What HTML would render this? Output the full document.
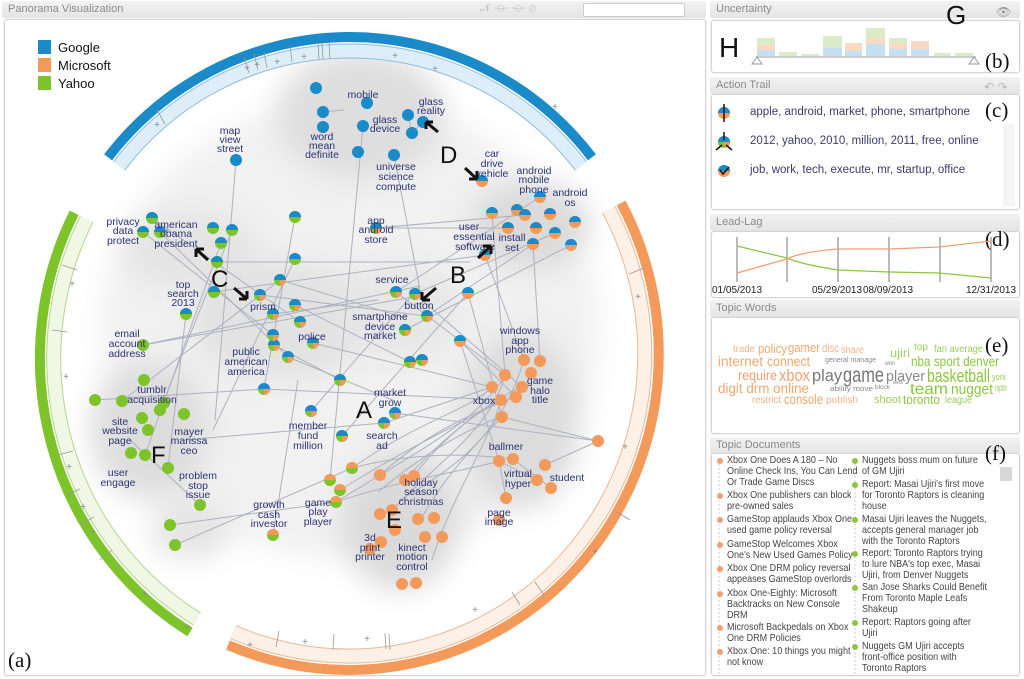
<!DOCTYPE html>
<html><head><meta charset="utf-8"><style>
*{margin:0;padding:0;box-sizing:border-box}
body{width:1024px;height:679px;background:#fff;font-family:"Liberation Sans",sans-serif;position:relative;overflow:hidden}
.tb{position:absolute;height:17px;background:linear-gradient(#f2f2f2,#e4e4e4);color:#8a8a8a;font-size:11px;line-height:17px;padding-left:6px;border-radius:2px}
.bx{position:absolute;background:#fff;border:1px solid #d4d4d4;border-radius:3px;box-shadow:0 0 2px #ddd}
.at{position:absolute;left:750px;font-size:11.5px;color:#3b3b6b;white-space:nowrap}
.doc{position:absolute;font-size:10.5px;line-height:11px;color:#444;white-space:nowrap;transform:scaleX(0.86);transform-origin:0 0}
.dot{position:absolute;width:6px;height:6px;border-radius:3px}
</style></head><body>
<!-- left panel -->
<div class="tb" style="left:2px;top:1px;width:704px">Panorama Visualization</div>
<div style="position:absolute;left:583px;top:3px;width:102px;height:14px;background:#fff;border:1px solid #ccc;border-radius:2px"></div>
<div style="position:absolute;left:480px;top:2px;font-size:11px;color:#bbb">𝒩 -⊖- -⊖- ⊘</div>
<div class="bx" style="left:4px;top:19px;width:702px;height:657px"></div>
<svg style="position:absolute;left:0;top:0" width="708" height="679" viewBox="0 0 708 679">
<defs>
<filter id="bl" x="-50%" y="-50%" width="200%" height="200%"><feGaussianBlur stdDeviation="14"/></filter>
<g id="g"><circle r="6" fill="#1a8ac9"/></g>
<g id="m"><circle r="6" fill="#f39a5a"/></g>
<g id="y"><circle r="6" fill="#7dc42a"/></g>
<g id="gm"><circle r="6" fill="#f39a5a"/><path d="M-6,0A6,6 0 0 1 6,0Z" fill="#1a8ac9"/></g>
<g id="gy"><circle r="6" fill="#7dc42a"/><path d="M-6,0A6,6 0 0 1 6,0Z" fill="#1a8ac9"/></g>
<g id="my"><circle r="6" fill="#7dc42a"/><path d="M-6,0A6,6 0 0 1 6,0Z" fill="#f39a5a"/></g>
<g id="gmy"><circle r="6" fill="#7dc42a"/><path d="M-6,0A6,6 0 0 1 6,0Z" fill="#1a8ac9"/><path d="M0,0L6,0A6,6 0 0 1 0,6Z" fill="#f39a5a"/></g>
</defs>
<!-- density -->
<g filter="url(#bl)">
<ellipse cx="350" cy="330" rx="250" ry="230" fill="#f1f1f1"/>
<ellipse cx="360" cy="115" rx="85" ry="65" fill="#dedede"/>
<ellipse cx="530" cy="225" rx="60" ry="45" fill="#dadada"/>
<ellipse cx="520" cy="420" rx="60" ry="90" fill="#dcdcdc"/>
<ellipse cx="400" cy="520" rx="60" ry="70" fill="#dadada"/>
<ellipse cx="150" cy="430" rx="60" ry="70" fill="#dddddd"/>
<ellipse cx="280" cy="320" rx="90" ry="60" fill="#e2e2e2"/>
<ellipse cx="190" cy="250" rx="70" ry="40" fill="#e4e4e4"/>
<ellipse cx="400" cy="310" rx="60" ry="50" fill="#e6e6e6"/>
<ellipse cx="190" cy="530" rx="40" ry="30" fill="#e4e4e4"/>
</g>
<!-- arcs -->
<g fill="none">
<path d="M108.1,157.3A307,313 0 0 1 591.9,157.3" stroke="#1a8ac9" stroke-width="10"/>
<path d="M119.1,165.9A293,299 0 0 1 580.9,165.9" stroke="#8fbcd8" stroke-width="15"/>
<path d="M119.1,165.9A293,299 0 0 1 580.9,165.9" stroke="#ddeef8" stroke-width="13"/>
<path d="M190,632A312,320 0 0 1 74.1,212.8" stroke="#7dc42a" stroke-width="10"/>
<path d="M197,619A298,305 0 0 1 86.7,218.9" stroke="#b4d58c" stroke-width="15"/>
<path d="M197,619A298,305 0 0 1 86.7,218.9" stroke="#f0f7e4" stroke-width="13"/>
<path d="M621.1,203A310,316 0 0 1 228,645" stroke="#f39a5a" stroke-width="10"/>
<path d="M608.7,209.6A296,302 0 0 1 233,632" stroke="#e9b897" stroke-width="15"/>
<path d="M608.7,209.6A296,302 0 0 1 233,632" stroke="#fdf0e6" stroke-width="13"/>
</g>
<g stroke="#999" stroke-width="0.8">
<line x1="157" y1="110" x2="165" y2="124"/><line x1="244" y1="57" x2="249" y2="73"/><line x1="254" y1="54" x2="258" y2="70"/><line x1="264" y1="52" x2="267" y2="68"/><line x1="290" y1="46" x2="292" y2="62"/><line x1="318" y1="43" x2="319" y2="59"/><line x1="322" y1="43" x2="323" y2="59"/><line x1="329" y1="43" x2="330" y2="59"/>
<line x1="62" y1="265" x2="77" y2="270"/><line x1="52" y1="330" x2="67" y2="332"/><line x1="58" y1="455" x2="73" y2="451"/><line x1="66" y1="495" x2="80" y2="489"/><line x1="80" y1="525" x2="94" y2="517"/><line x1="100" y1="560" x2="112" y2="550"/>
<line x1="644" y1="268" x2="629" y2="274"/><line x1="630" y1="520" x2="617" y2="512"/><line x1="544" y1="595" x2="535" y2="582"/><line x1="520" y1="605" x2="512" y2="592"/><line x1="390" y1="650" x2="389" y2="634"/><line x1="333" y1="650" x2="334" y2="634"/><line x1="276" y1="647" x2="279" y2="631"/><line x1="386" y1="649" x2="385" y2="633"/>
</g>
<g font-size="10" fill="#888" text-anchor="middle">
<text x="157" y="128">+</text><text x="247" y="71">+</text><text x="257" y="68">+</text><text x="277" y="65">+</text><text x="304" y="60">+</text><text x="395" y="59">+</text><text x="555" y="110">+</text><text x="435" y="72">+</text>
<text x="72" y="287">+</text><text x="66" y="380">+</text><text x="69" y="470">+</text><text x="83" y="510">+</text><text x="93" y="535">+</text><text x="145" y="597">+</text><text x="187" y="630">+</text>
<text x="638" y="300">+</text><text x="625" y="450">+</text><text x="595" y="555">+</text><text x="475" y="613">+</text><text x="367" y="642">+</text><text x="305" y="645">+</text><text x="250" y="648">+</text>
</g>
<g stroke="#aeb0bf" stroke-width="1" fill="none">
<line x1="236" y1="160" x2="215" y2="420"/><line x1="363" y1="126" x2="330" y2="480"/><line x1="394" y1="155" x2="425" y2="316"/><line x1="412" y1="133" x2="423" y2="122"/>
<line x1="152" y1="218" x2="300" y2="322"/><line x1="143" y1="232" x2="273" y2="335"/><line x1="160" y1="232" x2="288" y2="357"/><line x1="232" y1="230" x2="160" y2="410"/><line x1="221" y1="243" x2="145" y2="455"/><line x1="295" y1="259" x2="213" y2="430"/>
<line x1="213" y1="292" x2="485" y2="255"/><line x1="217" y1="262" x2="470" y2="262"/><line x1="295" y1="217" x2="264" y2="389"/><line x1="186" y1="314" x2="168" y2="468"/>
<line x1="143" y1="345" x2="420" y2="286"/><line x1="143" y1="345" x2="413" y2="297"/><line x1="122" y1="401" x2="280" y2="280"/><line x1="95" y1="400" x2="264" y2="389"/>
<line x1="280" y1="280" x2="406" y2="318"/><line x1="260" y1="295" x2="426" y2="316"/><line x1="273" y1="314" x2="378" y2="300"/><line x1="295" y1="305" x2="410" y2="362"/><line x1="274" y1="345" x2="340" y2="380"/><line x1="288" y1="357" x2="395" y2="401"/><line x1="313" y1="343" x2="492" y2="387"/>
<line x1="264" y1="389" x2="501" y2="400"/><line x1="311" y1="411" x2="420" y2="286"/><line x1="342" y1="436" x2="468" y2="293"/><line x1="184" y1="440" x2="383" y2="423"/>
<line x1="376" y1="228" x2="508" y2="228"/><line x1="376" y1="228" x2="525" y2="215"/><line x1="396" y1="292" x2="540" y2="197"/><line x1="415" y1="294" x2="555" y2="233"/><line x1="405" y1="330" x2="571" y2="245"/><line x1="427" y1="316" x2="533" y2="244"/>
<line x1="396" y1="292" x2="505" y2="375"/><line x1="415" y1="294" x2="522" y2="387"/><line x1="468" y1="293" x2="502" y2="417"/><line x1="460" y1="341" x2="499" y2="461"/><line x1="460" y1="341" x2="516" y2="397"/><line x1="395" y1="413" x2="598" y2="441"/><line x1="384" y1="423" x2="492" y2="387"/>
<line x1="485" y1="255" x2="524" y2="360"/><line x1="533" y1="244" x2="540" y2="361"/><line x1="492" y1="213" x2="505" y2="375"/>
<path d="M340,490 C420,440 470,420 502,400"/><path d="M336,502 C420,450 480,420 505,375"/><path d="M352,468 C420,420 470,410 492,387"/><path d="M380,475 C430,430 480,410 516,397"/><path d="M405,480 C440,440 480,410 501,400"/><path d="M414,476 C440,440 490,400 522,387"/><path d="M378,492 C440,440 490,420 502,417"/><path d="M392,510 C440,460 490,430 505,375"/><path d="M336,502 C400,480 470,470 499,461"/><path d="M352,468 C420,450 480,455 513,459"/><path d="M418,525 C440,480 480,440 502,417"/><path d="M432,560 C450,500 490,440 501,400"/><path d="M400,500 C450,470 500,440 524,360"/>
<line x1="170" y1="525" x2="336" y2="502"/><line x1="175" y1="545" x2="352" y2="468"/><line x1="200" y1="505" x2="130" y2="440"/><line x1="273" y1="535" x2="298" y2="380"/>
<line x1="502" y1="417" x2="598" y2="441"/><line x1="499" y1="461" x2="537" y2="480"/><line x1="513" y1="459" x2="551" y2="488"/><line x1="545" y1="465" x2="598" y2="441"/><line x1="506" y1="498" x2="499" y2="461"/>
<line x1="344" y1="110" x2="322" y2="112"/><line x1="408" y1="115" x2="412" y2="133"/>
</g>
<!-- nodes -->
<use href="#g" x="316" y="88"/><use href="#g" x="323" y="112"/><use href="#g" x="367" y="103"/><use href="#g" x="323" y="127"/><use href="#g" x="363" y="126"/><use href="#g" x="408" y="115"/><use href="#g" x="423" y="122"/><use href="#g" x="412" y="133"/><use href="#g" x="358" y="152"/><use href="#g" x="394" y="155"/><use href="#g" x="236" y="160"/>
<use href="#gm" x="482" y="181"/><use href="#gm" x="492" y="213"/><use href="#gm" x="517" y="210"/><use href="#gm" x="540" y="197"/><use href="#gm" x="550" y="214"/><use href="#gm" x="575" y="222"/><use href="#gm" x="536" y="228"/><use href="#gm" x="533" y="244"/><use href="#gm" x="525" y="215"/><use href="#gm" x="555" y="233"/><use href="#gm" x="571" y="245"/><use href="#gm" x="508" y="228"/><use href="#gm" x="485" y="255"/><use href="#gm" x="468" y="293"/><use href="#gm" x="460" y="341"/>
<use href="#gy" x="152" y="218"/><use href="#gy" x="143" y="232"/><use href="#gy" x="160" y="232"/><use href="#gy" x="232" y="230"/><use href="#gy" x="221" y="243"/><use href="#gy" x="213" y="228"/><use href="#gy" x="295" y="259"/><use href="#gy" x="295" y="217"/><use href="#gy" x="214" y="292"/><use href="#gy" x="186" y="314"/><use href="#gy" x="217" y="262"/>
<use href="#gmy" x="280" y="280"/><use href="#gmy" x="260" y="295"/><use href="#gmy" x="273" y="314"/><use href="#gmy" x="295" y="305"/><use href="#gmy" x="274" y="345"/><use href="#gmy" x="288" y="357"/><use href="#gmy" x="300" y="322"/><use href="#gmy" x="273" y="335"/><use href="#gmy" x="313" y="343"/><use href="#gmy" x="264" y="389"/><use href="#gmy" x="311" y="411"/><use href="#gmy" x="342" y="436"/><use href="#gmy" x="410" y="362"/><use href="#gmy" x="396" y="292"/><use href="#gmy" x="415" y="294"/><use href="#gmy" x="427" y="316"/><use href="#gmy" x="405" y="330"/><use href="#gmy" x="422" y="360"/><use href="#gmy" x="395" y="413"/><use href="#gmy" x="384" y="423"/><use href="#gmy" x="376" y="228"/><use href="#gmy" x="340" y="380"/>
<use href="#y" x="95" y="400"/><use href="#y" x="122" y="401"/><use href="#y" x="144" y="380"/><use href="#y" x="142" y="418"/><use href="#y" x="160" y="410"/><use href="#y" x="148" y="430"/><use href="#y" x="184" y="414"/><use href="#y" x="145" y="455"/><use href="#y" x="131" y="453"/><use href="#y" x="168" y="468"/><use href="#y" x="200" y="505"/><use href="#y" x="170" y="525"/><use href="#y" x="175" y="545"/><use href="#y" x="143" y="345"/><use href="#y" x="164" y="403"/>
<use href="#my" x="273" y="535"/><use href="#my" x="336" y="502"/><use href="#my" x="340" y="490"/><use href="#my" x="352" y="468"/><use href="#my" x="330" y="480"/>
<use href="#m" x="524" y="360"/><use href="#m" x="540" y="361"/><use href="#m" x="505" y="375"/><use href="#m" x="531" y="373"/><use href="#m" x="492" y="387"/><use href="#m" x="522" y="387"/><use href="#m" x="501" y="400"/><use href="#m" x="516" y="397"/><use href="#m" x="502" y="417"/><use href="#m" x="598" y="441"/><use href="#m" x="499" y="461"/><use href="#m" x="513" y="459"/><use href="#m" x="545" y="465"/><use href="#m" x="537" y="480"/><use href="#m" x="551" y="488"/><use href="#m" x="506" y="498"/><use href="#m" x="499" y="520"/>
<use href="#m" x="405" y="480"/><use href="#m" x="414" y="476"/><use href="#m" x="380" y="475"/><use href="#m" x="392" y="510"/><use href="#m" x="380" y="514"/><use href="#m" x="418" y="519"/><use href="#m" x="434" y="518"/><use href="#m" x="395" y="530"/><use href="#m" x="381" y="542"/><use href="#m" x="370" y="549"/><use href="#m" x="425" y="537"/><use href="#m" x="442" y="537"/><use href="#m" x="402" y="584"/><use href="#m" x="416" y="583"/>
<!-- labels -->
<g font-size="10.5" fill="#2c3472" text-anchor="middle">
<text x="363" y="98">mobile</text>
<text x="431" y="105">glass</text><text x="431" y="114">reality</text>
<text x="385" y="123">glass</text><text x="385" y="132">device</text>
<text x="322" y="140">word</text><text x="322" y="149">mean</text><text x="322" y="158">definite</text>
<text x="396" y="170">universe</text><text x="396" y="180">science</text><text x="396" y="190">compute</text>
<text x="230" y="134">map</text><text x="230" y="143">view</text><text x="230" y="152">street</text>
<text x="492" y="157">car</text><text x="492" y="167">drive</text><text x="492" y="177">vehicle</text>
<text x="534" y="174">android</text><text x="534" y="183">mobile</text><text x="534" y="193">phone</text>
<text x="570" y="196">android</text><text x="570" y="206">os</text>
<text x="469" y="230">user</text><text x="474" y="240">essential</text><text x="475" y="250">software</text>
<text x="512" y="241">install</text><text x="512" y="251">set</text>
<text x="123" y="225">privacy</text><text x="123" y="234">data</text><text x="123" y="244">protect</text>
<text x="176" y="228">american</text><text x="176" y="237">obama</text><text x="176" y="247">president</text>
<text x="376" y="224">app</text><text x="376" y="233">android</text><text x="376" y="243">store</text>
<text x="183" y="288">top</text><text x="183" y="297">search</text><text x="183" y="306">2013</text>
<text x="263" y="310">prism</text><text x="392" y="283">service</text><text x="419" y="309">button</text>
<text x="380" y="320">smartphone</text><text x="380" y="330">device</text><text x="380" y="339">market</text>
<text x="312" y="340">police</text>
<text x="127" y="337">email</text><text x="127" y="347">account</text><text x="127" y="357">address</text>
<text x="246" y="355">public</text><text x="246" y="365">american</text><text x="246" y="375">america</text>
<text x="520" y="334">windows</text><text x="520" y="344">app</text><text x="520" y="353">phone</text>
<text x="540" y="384">game</text><text x="540" y="394">halo</text><text x="540" y="403">title</text>
<text x="484" y="404">xbox</text>
<text x="152" y="393">tumblr</text><text x="152" y="403">acquisition</text>
<text x="390" y="396">market</text><text x="390" y="406">grow</text>
<text x="382" y="439">search</text><text x="382" y="449">ad</text>
<text x="308" y="429">member</text><text x="308" y="439">fund</text><text x="308" y="449">million</text>
<text x="120" y="425">site</text><text x="120" y="434">website</text><text x="120" y="444">page</text>
<text x="189" y="435">mayer</text><text x="189" y="444">marissa</text><text x="189" y="454">ceo</text>
<text x="506" y="450">ballmer</text>
<text x="118" y="476">user</text><text x="118" y="486">engage</text>
<text x="198" y="479">problem</text><text x="198" y="489">stop</text><text x="198" y="498">issue</text>
<text x="518" y="477">virtual</text><text x="518" y="487">hyper</text><text x="567" y="481">student</text>
<text x="421" y="486">holiday</text><text x="421" y="495">season</text><text x="421" y="505">christmas</text>
<text x="269" y="508">growth</text><text x="269" y="518">cash</text><text x="269" y="527">investor</text>
<text x="318" y="506">game</text><text x="318" y="515">play</text><text x="318" y="525">player</text>
<text x="499" y="516">page</text><text x="499" y="525">image</text>
<text x="370" y="541">3d</text><text x="370" y="551">print</text><text x="370" y="560">printer</text>
<text x="412" y="551">kinect</text><text x="412" y="560">motion</text><text x="412" y="570">control</text>
</g>
<!-- big letters -->
<g font-size="24" fill="#111" font-family="Liberation Sans">
<text x="356" y="418">A</text><text x="450" y="283">B</text><text x="211" y="287">C</text><text x="440" y="163">D</text><text x="386" y="528">E</text><text x="151" y="463">F</text>
</g>
<g stroke="#111" stroke-width="3" fill="none">
<path d="M438,132 L426,122 M426,122 l0,7 M426,122 l7,0"/>
<path d="M465,168 L477,179 M477,179 l-8,0 M477,179 l0,-8"/>
<path d="M478,258 L491,246 M491,246 l-8,0 M491,246 l0,8"/>
<path d="M436,288 L422,300 M422,300 l0,-8 M422,300 l8,0"/>
<path d="M208,260 L196,249 M196,249 l0,8 M196,249 l8,0"/>
<path d="M234,288 L247,299 M247,299 l-8,0 M247,299 l0,-8"/>
</g>
<!-- legend -->
<rect x="38" y="40" width="13" height="14" fill="#1a8ac9"/><rect x="38" y="58" width="13" height="14" fill="#f39a5a"/><rect x="38" y="76" width="13" height="14" fill="#7dc42a"/>
<g font-size="13" fill="#111"><text x="58" y="52">Google</text><text x="58" y="70">Microsoft</text><text x="58" y="88">Yahoo</text></g>
<text x="8" y="667" font-size="21" font-family="Liberation Serif" fill="#111">(a)</text>
</svg>

<!-- right panels -->
<div class="tb" style="left:710px;top:1px;width:310px">Uncertainty</div>
<div class="bx" style="left:711px;top:20px;width:309px;height:53px"></div>
<div class="tb" style="left:710px;top:77px;width:310px">Action Trail</div>
<div class="bx" style="left:711px;top:94px;width:309px;height:116px"></div>
<div class="tb" style="left:710px;top:214px;width:310px">Lead-Lag</div>
<div class="bx" style="left:711px;top:231px;width:309px;height:67px"></div>
<div class="tb" style="left:710px;top:300px;width:310px">Topic Words</div>
<div class="bx" style="left:711px;top:317px;width:309px;height:117px"></div>
<div class="tb" style="left:710px;top:437px;width:310px">Topic Documents</div>
<div class="bx" style="left:711px;top:453px;width:309px;height:223px"></div>

<svg style="position:absolute;left:708px;top:0" width="316" height="679" viewBox="708 0 316 679">
<g>
<rect x="757" y="38" width="18" height="7" fill="#dcebc7"/><rect x="757" y="45" width="18" height="5" fill="#f9d9c4"/><rect x="757" y="50" width="18" height="6" fill="#c5e0f0"/>
<rect x="779" y="52" width="18" height="4" fill="#dcebc7"/><rect x="801" y="54" width="18" height="2" fill="#dcebc7"/>
<rect x="823" y="36" width="19" height="12" fill="#dcebc7"/><rect x="823" y="48" width="19" height="8" fill="#c5e0f0"/>
<rect x="845" y="43" width="17" height="8" fill="#f9d9c4"/><rect x="845" y="51" width="17" height="5" fill="#c5e0f0"/>
<rect x="866" y="28" width="19" height="10" fill="#dcebc7"/><rect x="866" y="38" width="19" height="6" fill="#f9d9c4"/><rect x="866" y="44" width="19" height="12" fill="#c5e0f0"/>
<rect x="889" y="38" width="18" height="5" fill="#dcebc7"/><rect x="889" y="43" width="18" height="6" fill="#f9d9c4"/><rect x="889" y="49" width="18" height="7" fill="#c5e0f0"/>
<rect x="911" y="41" width="18" height="8" fill="#f9d9c4"/><rect x="911" y="49" width="18" height="7" fill="#c5e0f0"/>
<rect x="934" y="53" width="17" height="3" fill="#dcebc7"/><rect x="955" y="53" width="18" height="3" fill="#dcebc7"/>
<line x1="756" y1="57" x2="976" y2="57" stroke="#ccc" stroke-width="2"/>
<path d="M752,64 L757,57 L762,64Z M969,64 L974,57 L979,64Z" fill="none" stroke="#999"/>
</g>
<text x="719" y="57" font-size="28" fill="#111">H</text>
<text x="946" y="24" font-size="26" fill="#111">G</text>
<text x="996" y="16" font-size="12" fill="#999">👁</text>
<text x="985" y="68" font-size="21" font-family="Liberation Serif" fill="#111">(b)</text>
<text x="985" y="117" font-size="21" font-family="Liberation Serif" fill="#111">(c)</text>
<text x="985" y="246" font-size="21" font-family="Liberation Serif" fill="#111">(d)</text>
<text x="985" y="352" font-size="21" font-family="Liberation Serif" fill="#111">(e)</text>
<text x="985" y="460" font-size="21" font-family="Liberation Serif" fill="#111">(f)</text>
<text x="984" y="91" font-size="12" fill="#bbb">↶ ↷</text>
<circle cx="724" cy="113" r="6" fill="#f39a5a"/><path d="M718,113A6,6 0 0 1 730,113Z" fill="#1a8ac9"/><line x1="724" y1="104" x2="724" y2="122" stroke="#111" stroke-width="1.5"/>
<circle cx="724" cy="142" r="6" fill="#7dc42a"/><path d="M718,142A6,6 0 0 1 730,142Z" fill="#1a8ac9"/><path d="M724,142L730,142A6,6 0 0 1 724,148Z" fill="#f39a5a"/><path d="M724,132L724,140M716,150L722,145M732,150L726,145" stroke="#111" stroke-width="1.5"/>
<circle cx="724" cy="171" r="6" fill="#f39a5a"/><path d="M718,171A6,6 0 0 1 730,171Z" fill="#1a8ac9"/><path d="M720,170l3,4 6,-7" stroke="#111" stroke-width="1.5" fill="none"/>
<rect x="1003" y="124" width="12" height="82" fill="#f4f4f4"/>
<g stroke="#777" stroke-width="1"><line x1="737" y1="237" x2="737" y2="282"/><line x1="787" y1="237" x2="787" y2="282"/><line x1="838" y1="237" x2="838" y2="282"/><line x1="889" y1="237" x2="889" y2="282"/><line x1="940" y1="237" x2="940" y2="282"/><line x1="991" y1="237" x2="991" y2="282"/></g>
<path d="M737,246 L787,258 Q800,264 838,270 L889,272 L939,273 L991,278" fill="none" stroke="#8cc63f" stroke-width="1.3"/>
<path d="M737,273 L787,259 Q800,252 838,249 L889,249 L939,247 L991,241" fill="none" stroke="#f0a070" stroke-width="1.3"/>
<g font-size="10" fill="#222"><text x="712" y="293">01/05/2013</text><text x="812" y="293">05/29/2013</text><text x="863" y="293">08/09/2013</text><text x="966" y="293">12/31/2013</text></g>
<g font-family="Liberation Sans" lengthAdjust="spacingAndGlyphs">
<text x="733" y="352" font-size="10" fill="#f3b48a" textLength="22" lengthAdjust="spacingAndGlyphs">trade</text>
<text x="758" y="353" font-size="13" fill="#f0a86e" textLength="29" lengthAdjust="spacingAndGlyphs">policy</text>
<text x="788" y="352" font-size="13" fill="#f0a86e" textLength="32" lengthAdjust="spacingAndGlyphs">gamer</text>
<text x="822" y="352" font-size="12" fill="#f3b48a" textLength="17" lengthAdjust="spacingAndGlyphs">disc</text>
<text x="841" y="353" font-size="10" fill="#f3b48a" textLength="23" lengthAdjust="spacingAndGlyphs">share</text>
<text x="718" y="366" font-size="13.5" fill="#f0a86e" textLength="45" lengthAdjust="spacingAndGlyphs">internet</text>
<text x="767" y="366" font-size="13.5" fill="#f0a86e" textLength="43" lengthAdjust="spacingAndGlyphs">connect</text>
<text x="825" y="362" font-size="7" fill="#888" textLength="51" lengthAdjust="spacingAndGlyphs">general manage</text>
<text x="885" y="365" font-size="6" fill="#888" textLength="10" lengthAdjust="spacingAndGlyphs">won</text>
<text x="890" y="357" font-size="12" fill="#9ccc5a" textLength="20" lengthAdjust="spacingAndGlyphs">ujiri</text>
<text x="914" y="350" font-size="10" fill="#9ccc5a" textLength="14" lengthAdjust="spacingAndGlyphs">top</text>
<text x="934" y="352" font-size="10" fill="#9ccc5a" textLength="49" lengthAdjust="spacingAndGlyphs">fan average</text>
<text x="911" y="366" font-size="14" fill="#8cc63f" textLength="88" lengthAdjust="spacingAndGlyphs">nba sport denver</text>
<text x="738" y="380" font-size="14" fill="#f0a070" textLength="39" lengthAdjust="spacingAndGlyphs">require</text>
<text x="779" y="381" font-size="17" fill="#f0a070" textLength="31" lengthAdjust="spacingAndGlyphs">xbox</text>
<text x="812" y="381" font-size="17" fill="#777" textLength="30" lengthAdjust="spacingAndGlyphs">play</text>
<text x="843" y="382" font-size="21" fill="#777" textLength="41" lengthAdjust="spacingAndGlyphs">game</text>
<text x="886" y="381" font-size="15" fill="#888" textLength="39" lengthAdjust="spacingAndGlyphs">player</text>
<text x="927" y="382" font-size="18" fill="#8cc63f" textLength="63" lengthAdjust="spacingAndGlyphs">basketball</text>
<text x="992" y="380" font-size="9.5" fill="#9ccc5a" textLength="14" lengthAdjust="spacingAndGlyphs">york</text>
<text x="718" y="393" font-size="13.5" fill="#f0a86e" textLength="91" lengthAdjust="spacingAndGlyphs">digit drm online</text>
<text x="830" y="391" font-size="7" fill="#888" textLength="43" lengthAdjust="spacingAndGlyphs">ability move</text>
<text x="875" y="389" font-size="6.5" fill="#888" textLength="15" lengthAdjust="spacingAndGlyphs">block</text>
<text x="893" y="384" font-size="5.5" fill="#888" textLength="10" lengthAdjust="spacingAndGlyphs">week</text>
<text x="910" y="394" font-size="16" fill="#8cc63f" textLength="38" lengthAdjust="spacingAndGlyphs">team</text>
<text x="951" y="394" font-size="15" fill="#8cc63f" textLength="42" lengthAdjust="spacingAndGlyphs">nugget</text>
<text x="995" y="391" font-size="10" fill="#9ccc5a" textLength="12" lengthAdjust="spacingAndGlyphs">raptor</text>
<text x="752" y="403" font-size="10.5" fill="#f3b48a" textLength="29" lengthAdjust="spacingAndGlyphs">restrict</text>
<text x="784" y="404" font-size="14" fill="#f0a86e" textLength="39" lengthAdjust="spacingAndGlyphs">console</text>
<text x="826" y="403" font-size="10.5" fill="#f3b48a" textLength="32" lengthAdjust="spacingAndGlyphs">publish</text>
<text x="874" y="403" font-size="11" fill="#9ccc5a" textLength="27" lengthAdjust="spacingAndGlyphs">shoot</text>
<text x="903" y="404" font-size="13" fill="#8cc63f" textLength="37" lengthAdjust="spacingAndGlyphs">toronto</text>
<text x="945" y="403" font-size="10.5" fill="#9ccc5a" textLength="27" lengthAdjust="spacingAndGlyphs">league</text>
</g>
<line x1="719" y1="460" x2="719" y2="676" stroke="#ccc" stroke-dasharray="2,2"/>
<line x1="855" y1="460" x2="855" y2="676" stroke="#ccc" stroke-dasharray="2,2"/>
<rect x="1000" y="467" width="12" height="14" fill="#d8d8d8"/>
</svg>
<div class="at" style="top:106px">apple, android, market, phone, smartphone</div>
<div class="at" style="top:135px">2012, yahoo, 2010, million, 2011, free, online</div>
<div class="at" style="top:164px">job, work, tech, execute, mr, startup, office</div>

<div class="dot" style="left:717px;top:458px;background:#f0a070"></div><div class="doc" style="left:727px;top:455px">Xbox One Does A 180 – No<br>Online Check Ins, You Can Lend<br>Or Trade Game Discs</div>
<div class="dot" style="left:717px;top:493px;background:#f0a070"></div><div class="doc" style="left:727px;top:490px">Xbox One publishers can block<br>pre-owned sales</div>
<div class="dot" style="left:717px;top:517px;background:#f0a070"></div><div class="doc" style="left:727px;top:514px">GameStop applauds Xbox One<br>used game policy reversal</div>
<div class="dot" style="left:717px;top:542px;background:#f0a070"></div><div class="doc" style="left:727px;top:539px">GameStop Welcomes Xbox<br>One's New Used Games Policy</div>
<div class="dot" style="left:717px;top:566px;background:#f0a070"></div><div class="doc" style="left:727px;top:563px">Xbox One DRM policy reversal<br>appeases GameStop overlords</div>
<div class="dot" style="left:717px;top:591px;background:#f0a070"></div><div class="doc" style="left:727px;top:588px">Xbox One-Eighty: Microsoft<br>Backtracks on New Console<br>DRM</div>
<div class="dot" style="left:717px;top:625px;background:#f0a070"></div><div class="doc" style="left:727px;top:622px">Microsoft Backpedals on Xbox<br>One DRM Policies</div>
<div class="dot" style="left:717px;top:649px;background:#f0a070"></div><div class="doc" style="left:727px;top:646px">Xbox One: 10 things you might<br>not know</div>
<div class="dot" style="left:852px;top:458px;background:#8cc63f"></div><div class="doc" style="left:862px;top:455px">Nuggets boss mum on future<br>of GM Ujiri</div>
<div class="dot" style="left:852px;top:482px;background:#8cc63f"></div><div class="doc" style="left:862px;top:479px">Report: Masai Ujiri's first move<br>for Toronto Raptors is cleaning<br>house</div>
<div class="dot" style="left:852px;top:517px;background:#8cc63f"></div><div class="doc" style="left:862px;top:514px">Masai Ujiri leaves the Nuggets,<br>accepts general manager job<br>with the Toronto Raptors</div>
<div class="dot" style="left:852px;top:551px;background:#8cc63f"></div><div class="doc" style="left:862px;top:548px">Report: Toronto Raptors trying<br>to lure NBA's top exec, Masai<br>Ujiri, from Denver Nuggets</div>
<div class="dot" style="left:852px;top:585px;background:#8cc63f"></div><div class="doc" style="left:862px;top:582px">San Jose Sharks Could Benefit<br>From Toronto Maple Leafs<br>Shakeup</div>
<div class="dot" style="left:852px;top:620px;background:#8cc63f"></div><div class="doc" style="left:862px;top:617px">Report: Raptors going after<br>Ujiri</div>
<div class="dot" style="left:852px;top:644px;background:#8cc63f"></div><div class="doc" style="left:862px;top:641px">Nuggets GM Ujiri accepts<br>front-office position with<br>Toronto Raptors</div>
</body></html>
